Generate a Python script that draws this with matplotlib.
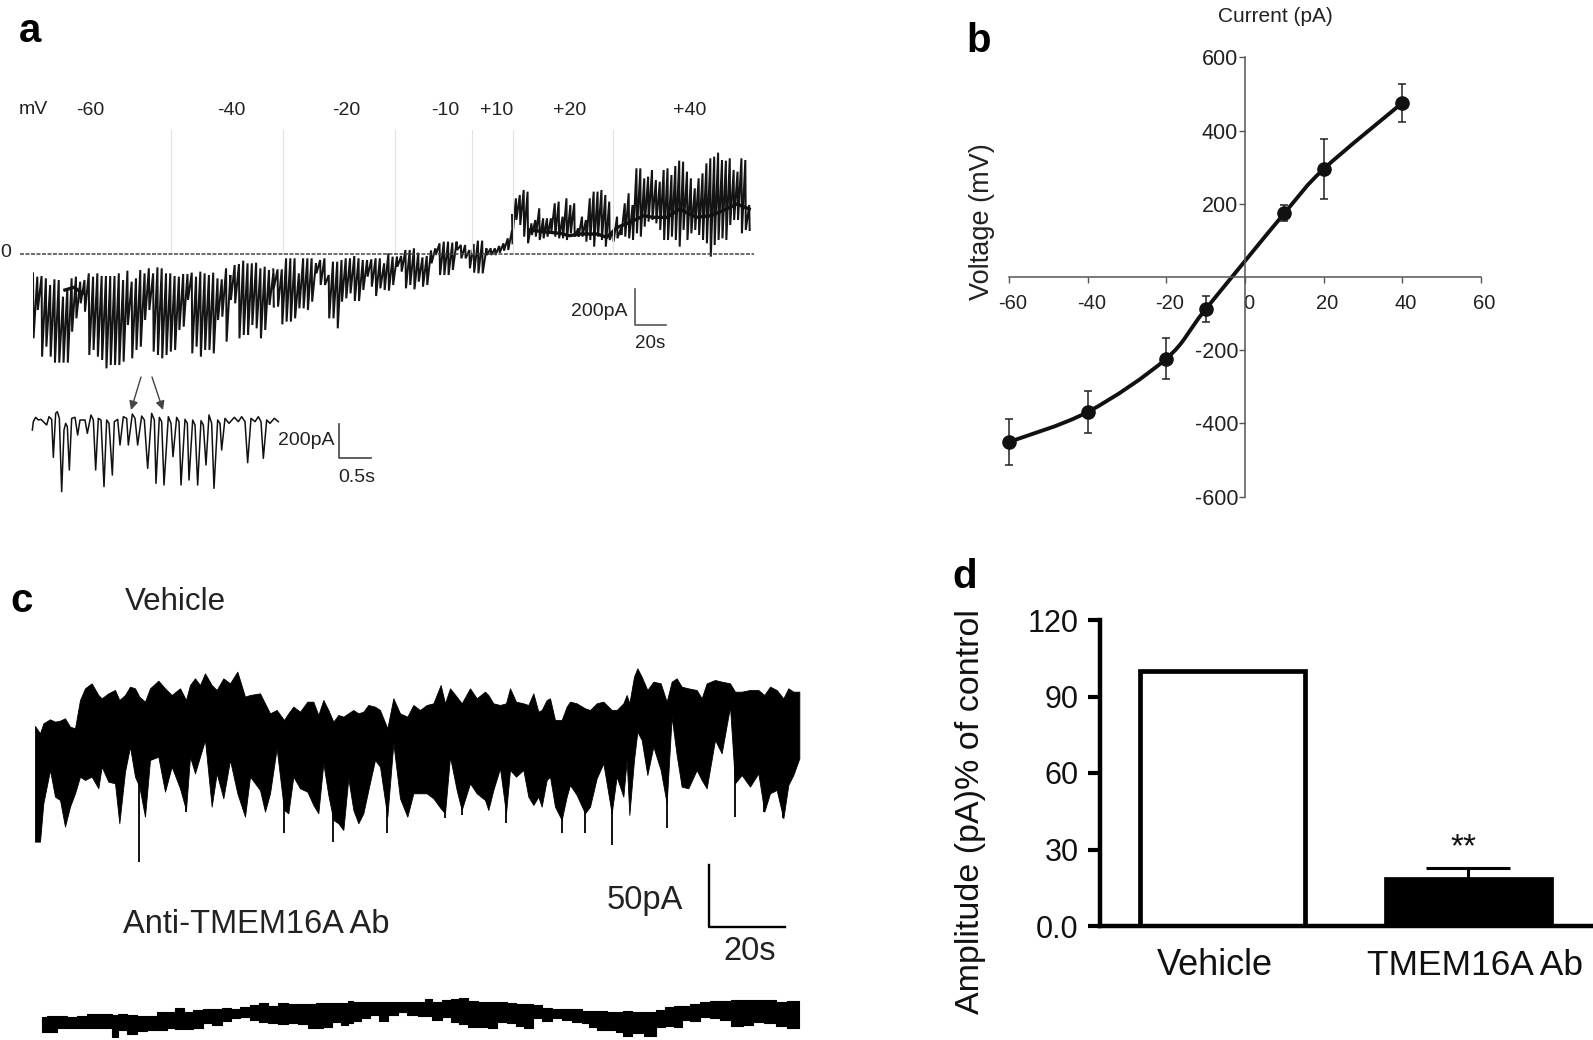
import numpy as np
import matplotlib
matplotlib.use("Agg")
import matplotlib.pyplot as plt
from matplotlib.lines import Line2D
from matplotlib.patches import FancyArrowPatch, PathPatch
from matplotlib.path import Path
from matplotlib.transforms import ScaledTranslation

plt.rcParams['font.family'] = ['Liberation Sans', 'DejaVu Sans']
plt.rcParams['axes.unicode_minus'] = False

W, H = 1593, 1040

# ---------- panel a: main ramp trace (digitiser counts, 0 = dashed line) ----------
seg1_bot = [-253,-168,-308,-278,-308,-326,-326,-326,-326,-233,-193,-148,-173,-303,-288,-308,-318,-343,-333,-333,-333,-323,-213,-313,-288,-278,-198,-168,-293,-303,-313,-303,-293,-288,-228,-218,-138,-298,-278,-308,-288,-288,-298,-198,-188,-263,-138,-148,-253,-243,-243,-213,-223,-253,-228,-153,-158]
seg1_top = [-58,-68,-66,-73,-93,-76,-78,-128,-103,-73,-68,-83,-78,-58,-68,-58,-66,-66,-66,-66,-58,-78,-50,-83,-73,-48,-58,-43,-58,-40,-43,-58,-58,-66,-68,-60,-60,-56,-68,-53,-58,-63,-56,-73,-76,-43,-63,-33,-30,-20,-28,-28,-26,-43,-38,-48,-58]
seg2_bot = [-103,-158,-211,-203,-203,-193,-163,-163,-168,-143,-58,-93,-93,-193,-193,-223,-143,-133,-118,-141,-141,-108,-68,-98,-126,-103,-108,-110,-93,-38,-53,-103,-93,-106,-83,-98,-93,-28,-3,-63,-63,-63,-48,12,-13,-13,-43,-56,-58,-58,-3,-3,-3,4,10,12,32]
seg2_top = [-46,-46,-46,-13,-13,-13,-58,-13,-13,-13,-28,-18,-13,-63,-23,-23,-18,-13,-13,-6,-13,-18,-18,-16,-13,-13,-28,2,-8,-8,-6,12,12,17,4,-10,-6,10,17,32,37,37,34,37,27,27,12,30,40,40,17,17,17,24,32,47,72]
seg3_bot = [52,102,87,52,32,57,52,42,47,52,67,52,47,47,42,62,52,52,52,37,42,22,52,42,22,42,37,47,57,52,47,42,62,52,82,97,102,92,72,42,42,52,42,22,72,42,62,72,57,42,32,-8,27,42,47,42,87,102,102,62,72,72]
seg3_top = [117,167,177,192,187,92,102,137,107,107,107,152,157,112,167,147,152,77,112,102,167,187,187,192,177,157,72,112,77,152,182,147,257,257,227,232,252,222,217,252,257,237,264,280,277,247,227,197,227,242,272,287,292,304,282,280,287,252,247,287,282,147]
seg_times = [(0, 155), (155, 309), (309, 462)]
band_t = [20.6, 26.5, 32, np.nan, 320.6, 329, 340, 346, 353, 364, 370, 377, 385, 394, 400, 409, 417, 428, 437, 445, 454, 462]
band_i = [-108, -100, -118, np.nan, 72, 67, 62, 55, 60, 60, 50, 80, 95, 115, 110, 110, 135, 110, 115, 130, 150, 135]

# panel a inset
inset_sample = [22,25,32,40,48,55,65,72,80,85,92,97,103,110,117,122,127,133,140,150,158,165,180,187,198,205,212,220,228,237,245,252,262,268,278,285,295,305,310,322,330,338,350,358,368,380,388,393,403,410,417,430,438,444,455,462,468,480,487,492,503,510,518,528,535,543,552,560,567,578,585,590,600,612,628,640,650,660,668,678,690,700,708,715,725,735,748,760]
inset_i = [-30,-5,8,0,2,-5,-15,10,2,-112,20,25,5,-215,-30,-10,-20,-150,5,8,-45,0,0,-40,15,0,-150,5,0,-200,0,-10,-165,-5,2,-75,10,5,-75,18,5,-75,12,0,-145,20,0,-190,8,-5,-195,10,-10,-110,8,-5,-195,2,-10,-180,0,-15,-195,-2,-15,-135,15,-10,-205,0,-10,-90,5,-10,8,-5,10,-5,-128,5,-5,10,-5,-115,0,-10,5,-5]

mv_labels = ['-60', '-40', '-20', '-10', '+10', '+20', '+40']

# ---------- panel b ----------
b_voltage = [-60, -40, -20, -10, 10, 20, 40]
b_current = [-451, -369, -223, -88, 174, 295, 476]
b_err = [62, 57, 57, 35, 22, 82, 52]
b_xticks = [-60, -40, -20, 0, 20, 40, 60]
b_yticks = [-600, -400, -200, 200, 400, 600]

# ---------- panel c ----------
veh_sample = [15,30,40,60,75,90,105,120,135,150,165,185,205,215,235,255,268,285,300,315,328,345,360,385,405,425,450,468,480,495,510,525,545,560,580,600,622,645,660,690,705,720,740,762,775,790,810,832,850,865,880,895,910,925,940,955,970,985,1000,1015,1035,1050,1072,1090,1110,1132,1150,
              1170,1190,1210,1232,1245,1260,1280,1295,1320,1340,1365,1375,1390,1410,1428,1440,1458,1480,1495,1510,1525,1535,1550,1560,1575,1595,1610,1620,1640,1665,1680,1700,1720,1745,1760,1780,1790,1798,1812,1822,1835,1852,1870,1892,1910,1925,1940,1955,1975,2000,2015,2030,2055,2075,2100,2115,2135,2160,2185,2203,2220,2240,2260,2275,2290,2308]
veh_top = [412,390,420,432,425,428,435,410,405,490,525,540,505,495,510,520,490,505,530,525,500,485,525,548,525,505,525,490,535,555,535,570,535,520,555,540,575,500,505,510,480,450,460,430,450,470,455,485,485,445,490,460,425,445,440,450,460,450,455,475,470,460,405,495,450,440,475,
           460,475,480,535,480,525,500,480,525,495,515,505,480,475,480,525,485,480,475,510,455,460,490,495,430,430,470,485,480,465,460,480,485,460,460,480,505,480,560,585,560,520,545,540,485,545,555,530,525,520,495,540,550,545,540,515,515,520,520,505,530,520,495,525,515,515]
veh_bot = [65,65,180,280,200,190,110,170,210,260,250,260,225,290,245,240,120,275,350,260,230,140,310,320,215,290,225,160,320,270,320,370,170,270,195,310,210,140,260,220,155,210,345,160,150,260,225,215,175,150,300,205,130,120,100,255,160,120,150,220,310,290,140,360,195,140,210,
           210,210,195,165,150,320,220,160,240,210,190,160,220,285,150,280,260,280,200,175,200,170,250,260,170,130,200,235,205,150,170,255,300,150,260,200,310,145,310,395,370,265,350,280,180,440,325,230,225,280,250,225,370,330,470,240,265,230,270,155,210,220,135,235,265,315]
spike_sample = [328, 468, 762, 910, 1072, 1245, 1295, 1428, 1595, 1665, 1745, 1910, 2115, 2203, 2260]
spike_low = [5, 155, 90, 65, 90, 135, 145, 120, 90, 90, 55, 105, 140, 155, 135]

anti_sample = [35,65,95,125,155,185,215,240,252,275,305,335,365,395,425,447,475,505,530,560,590,615,645,675,700,730,760,790,820,850,865,890,920,945,960,980,1005,1035,1060,1090,1115,1145,1180,
               1190,1220,1250,1275,1300,1330,1360,1385,1415,1445,1470,1495,1520,1550,1580,1610,1640,1670,1685,1715,1745,1770,1790,1820,1865,1890,1920,1945,1965,1995,2025,2055,2085,2120,2155,2185,2220,2255,2285,2308]
anti_top = [58,62,62,58,62,67,67,67,65,67,65,63,63,73,73,85,75,80,83,83,85,83,90,95,100,93,100,98,98,97,100,100,100,100,107,105,105,105,103,103,105,105,103,
            113,105,110,112,117,107,105,105,105,100,98,97,95,85,83,83,83,77,77,77,73,73,77,73,73,80,90,93,93,97,105,107,107,110,110,110,110,105,107,107]
anti_bot = [15,13,25,27,27,27,27,25,0,20,9,17,20,20,25,23,23,27,40,35,47,57,60,50,45,42,37,40,37,27,25,30,43,35,40,47,57,65,47,65,75,65,63,
            63,50,60,45,37,30,30,25,43,40,33,25,55,47,55,50,45,40,30,20,20,15,3,10,3,30,33,30,50,47,60,55,50,33,35,45,40,33,25,25]

# ---------- panel d ----------
d_groups = ['Vehicle', 'TMEM16A Ab']
d_values = [100, 18.4]
d_err = [0, 4.3]
d_yticks = [0, 30, 60, 90, 120]
d_yticklabels = ['0.0', '30', '60', '90', '120']

fig = plt.figure(figsize=(W / 100, H / 100), dpi=100, facecolor='white')


def axpx(x0, y0, x1, y1, **kw):
    return fig.add_axes([x0 / W, 1 - y1 / H, (x1 - x0) / W, (y1 - y0) / H], **kw)


def label(x, y, s, size, color='#222222', **kw):
    kw.setdefault('ha', 'center')
    kw.setdefault('va', 'center')
    fig.text(x / W, 1 - (y + 2.5) / H, s, fontsize=size, color=color, **kw)


def rule(xs, ys, color='#333333', lw=1.0, **kw):
    fig.add_artist(Line2D([x / W for x in xs], [1 - y / H for y in ys], color=color, lw=lw, **kw))


# panel letters
for x, y, s in [(30, 28, 'a'), (979, 39, 'b'), (22, 598, 'c'), (965, 575, 'd')]:
    label(x, y, s, 29, color='black', fontweight='bold')

# ---- a ----
ax_a = axpx(33, 130, 752, 380)
ax_a.set_xlim(0, 463.8)
ax_a.set_ylim(-378, 372)
ax_a.axis('off')
for px in [171, 283, 395, 472, 513, 613]:
    rule([px, px], [130, 254], color='#e2e2e2', lw=0.8)
rule([20, 754], [254, 254], color='#444444', lw=1.1, ls=(0, (2.6, 1.0)))
for (t0, t1), lo, hi in zip(seg_times, [seg1_bot, seg2_bot, seg3_bot], [seg1_top, seg2_top, seg3_top]):
    t = np.linspace(t0, t1, len(lo))
    dt = t[1] - t[0]
    xs = np.empty(t.size * 2)
    ys = np.empty(t.size * 2)
    xs[0::2], xs[1::2] = t, t + dt * 0.12
    ys[0::2], ys[1::2] = hi, lo
    ax_a.plot(xs, ys, color='#141414', lw=1.45, solid_joinstyle='miter')
ax_a.plot(band_t, band_i, color='#111111', lw=2.4)

for x, s in zip([90, 231, 346, 445, 496.5, 569.5, 689.5], mv_labels):
    label(x, 108, s, 14)
label(33, 107, 'mV', 14)
label(6, 250, '0', 14)
rule([635, 635, 666], [289, 325, 325], color='#555555', lw=1.2)
label(599, 309, '200pA', 14)
label(650, 341, '20s', 13.5)

ax_i = axpx(25, 380, 285, 500)
ax_i.set_xlim(0, 780)
ax_i.set_ylim(-240, 120)
ax_i.axis('off')
ax_i.plot(inset_sample, inset_i, color='#111111', lw=1.1)
for a, b in [((141, 377), (131, 410)), ((152, 377), (163, 410))]:
    fig.add_artist(FancyArrowPatch((a[0] / W, 1 - a[1] / H), (b[0] / W, 1 - b[1] / H), transform=fig.transFigure,
                                   arrowstyle='-|>', mutation_scale=13, lw=1.0, color='#444444', shrinkA=0, shrinkB=0))
rule([339, 339, 371], [424, 458, 458], color='#444444', lw=1.2)
label(306, 438, '200pA', 14)
label(357, 475, '0.5s', 14)

# ---- b ----
ax_b = axpx(1009, 57.5, 1481, 496.5)
ax_b.set_xlim(-60, 60)
ax_b.set_ylim(-600, 600)
ax_b.patch.set_alpha(0)
for s in ['top', 'right']:
    ax_b.spines[s].set_visible(False)
for s in ['left', 'bottom']:
    ax_b.spines[s].set_position('zero')
    ax_b.spines[s].set_color('#555555')
    ax_b.spines[s].set_linewidth(1.1)
ax_b.set_xticks(b_xticks)
ax_b.set_yticks(b_yticks)
ax_b.tick_params(axis='x', length=4, width=1.0, color='#555555', labelsize=14.5, labelcolor='#222222', pad=8, direction='out')
ax_b.tick_params(axis='y', length=4, width=1.0, color='#555555', labelsize=15.5, labelcolor='#222222', pad=1, direction='out')
shift = ScaledTranslation(3.5 / 100, 0, fig.dpi_scale_trans)
for tl in ax_b.get_xticklabels():
    tl.set_transform(tl.get_transform() + shift)
# smooth connecting curve through the means (Catmull-Rom style Bezier)
P = np.column_stack([b_voltage, b_current]).astype(float)
verts = [tuple(P[0])]
codes = [Path.MOVETO]
for i in range(len(P) - 1):
    p0 = P[max(i - 1, 0)]
    p1, p2 = P[i], P[i + 1]
    p3 = P[min(i + 2, len(P) - 1)]
    verts += [tuple(p1 + (p2 - p0) / 6), tuple(p2 - (p3 - p1) / 6), tuple(p2)]
    codes += [Path.CURVE4] * 3
ax_b.add_patch(PathPatch(Path(verts, codes), fill=False, edgecolor='#111111', lw=2.8, clip_on=False))
ax_b.errorbar(b_voltage, b_current, yerr=b_err, color='#111111', ls='none', marker='o', ms=9.5,
              ecolor='#222222', elinewidth=1.1, capsize=3, capthick=1.1, clip_on=False)
label(1275, 14, 'Current (pA)', 15)
label(982, 219, 'Voltage (mV)', 19.5, rotation=90)

# ---- c ----
ax_v = axpx(30, 660, 810, 863.3)
ax_v.set_xlim(0, 2340)
ax_v.set_ylim(0, 610)
ax_v.axis('off')
ax_v.fill_between(veh_sample, veh_bot, veh_top, color='black', lw=0.6)
ax_v.vlines(spike_sample, spike_low, 300, color='black', lw=1.3)

ax_t = axpx(30, 960, 810, 1036.67)
ax_t.set_xlim(0, 2340)
ax_t.set_ylim(0, 230)
ax_t.axis('off')
ax_t.fill_between(anti_sample, anti_bot, anti_top, step='mid', color='black', lw=0.8)

label(175, 599, 'Vehicle', 22.5)
label(256, 922, 'Anti-TMEM16A Ab', 23.5)
rule([709, 709, 785], [865, 927, 927], color='black', lw=1.7)
label(645, 898, '50pA', 23.5)
label(750, 949, '20s', 23.5)

# ---- d ----
ax_d = axpx(1100, 620, 1593, 926)
ax_d.set_xlim(-0.499, 1.509)
ax_d.set_ylim(0, 120)
ax_d.patch.set_alpha(0)
for s in ['top', 'right']:
    ax_d.spines[s].set_visible(False)
for s in ['left', 'bottom']:
    ax_d.spines[s].set_linewidth(3.2)
ax_d.bar([0, 1], d_values, width=0.672, color=['white', 'black'], edgecolor='black', lw=3.4, zorder=1)
ax_d.errorbar([1], d_values[1], yerr=[[0], [d_err[1]]], color='black', elinewidth=2.2, capsize=30, capthick=2.2, zorder=2)
ax_d.set_xticks([])
ax_d.set_yticks(d_yticks)
ax_d.set_yticklabels(d_yticklabels)
ax_d.tick_params(axis='y', length=8.5, width=3, labelsize=22, pad=7, labelcolor='#111111')
for x, s, sz in zip([1215, 1475], d_groups, [26, 25.5]):
    label(x, 963, s, sz, color='#111111')
label(1463, 845, '**', 24, color='#111111')
label(970, 809, 'Amplitude (pA)% of control', 24.5, rotation=90, color='#111111')

fig.savefig('out.png', dpi=100, facecolor='white')
